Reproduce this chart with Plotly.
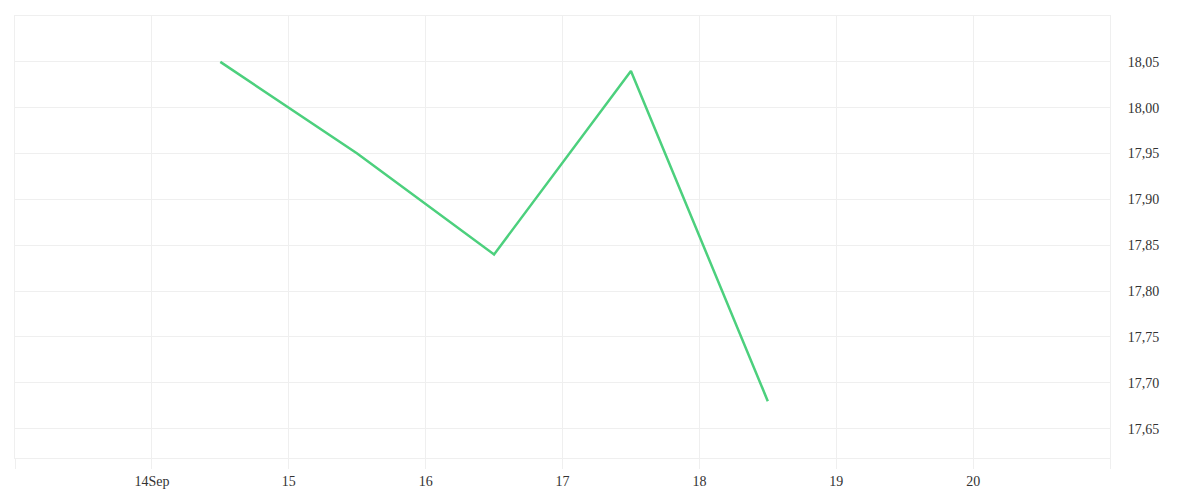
import plotly.graph_objects as go

# data
dates = [
    "2023-09-14 12:00",
    "2023-09-15 12:00",
    "2023-09-16 12:00",
    "2023-09-17 12:00",
    "2023-09-18 12:00",
]
prices = [18.05, 17.95, 17.84, 18.04, 17.68]

x_ticks = ["2023-09-%02d" % d for d in range(13, 22)]
x_labels = ["", "14Sep", "15", "16", "17", "18", "19", "20", ""]
y_ticks = [17.65, 17.70, 17.75, 17.80, 17.85, 17.90, 17.95, 18.00, 18.05, 18.10]
y_labels = ["17,65", "17,70", "17,75", "17,80", "17,85", "17,90", "17,95", "18,00", "18,05", ""]

grid = "#efefef"
font = dict(family="Liberation Serif", size=14, color="#333333")

fig = go.Figure()
fig.add_trace(
    go.Scatter(
        x=dates,
        y=prices,
        mode="lines",
        line=dict(color="#4cd07d", width=2.5),
        hoverinfo="x+y",
    )
)

# the page body adds an 8px offset, so margins are shifted to compensate
fig.update_layout(
    width=1200,
    height=500,
    margin=dict(l=7, r=98, t=8, b=50, autoexpand=False),
    paper_bgcolor="white",
    plot_bgcolor="white",
    showlegend=False,
    font=font,
    xaxis=dict(
        type="date",
        range=["2023-09-13", "2023-09-21"],
        tickmode="array",
        tickvals=x_ticks,
        ticktext=x_labels,
        showgrid=True,
        gridcolor=grid,
        gridwidth=1,
        ticks="outside",
        ticklen=10,
        tickcolor=grid,
        showline=True,
        linecolor=grid,
        mirror=True,
        zeroline=False,
    ),
    xaxis2=dict(
        type="date",
        overlaying="x",
        matches="x",
        side="top",
        tickmode="array",
        tickvals=x_ticks,
        ticktext=[""] * len(x_ticks),
        showgrid=False,
        ticks="outside",
        ticklen=4,
        tickcolor=grid,
        showline=False,
        zeroline=False,
    ),
    yaxis=dict(
        side="right",
        range=[17.618, 18.10],
        tickmode="array",
        tickvals=y_ticks,
        ticktext=y_labels,
        showgrid=True,
        gridcolor=grid,
        gridwidth=1,
        ticks="",
        ticklabelstandoff=14,
        showline=True,
        linecolor=grid,
        mirror=True,
        zeroline=False,
    ),
)

fig.write_html("out.html")
